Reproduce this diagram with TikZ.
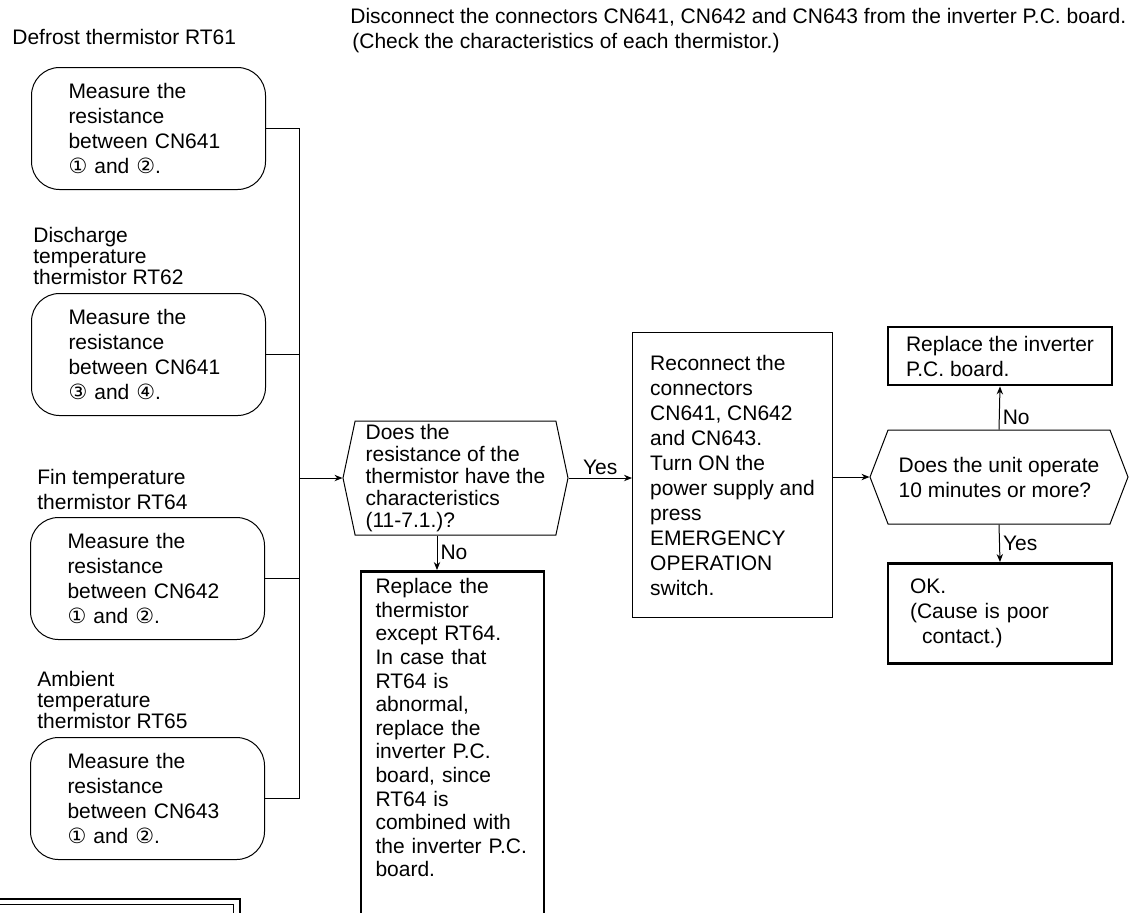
\documentclass[tikz,border=0pt]{standalone}
\usepackage{fontspec}
\setmainfont{Liberation Sans}
\newfontfamily\circfont{DejaVu Sans}
\usetikzlibrary{arrows.meta, positioning, shapes.symbols, calc}

\newcommand{\cn}[1]{{\circfont #1}}
\newcommand{\boxfont}{\fontsize{10.5}{12.5}\selectfont}
\newcommand{\tightfont}{\fontsize{10.5}{10.5}\selectfont}
\newcommand{\queryfont}{\fontsize{10.5}{11}\selectfont}
\newcommand{\longfont}{\fontsize{10.5}{11.8}\selectfont}

\tikzset{
  measure/.style={rectangle, draw, rounded corners=14pt, line width=0.5pt,
                  text width=80pt, inner xsep=18.5pt,
                  minimum width=117pt, minimum height=61pt, align=left,
                  anchor=north west, font=\boxfont},
  tlabel/.style={inner sep=0pt, anchor=west, align=left, font=\tightfont},
  query/.style={signal, signal to=west and east, draw, line width=0.5pt,
                align=left, inner sep=0pt},
  action/.style={rectangle, draw, line width=0.5pt, align=left,
                 font=\boxfont},
  result/.style={action, line width=1.4pt},
  wire/.style={line width=0.5pt},
  arr/.style={-{Stealth[length=4pt,width=3.2pt]}, line width=0.5pt},
  ans/.style={inner sep=1.5pt, font=\boxfont},
}

\begin{document}
\begin{tikzpicture}[x=0.5pt, y=-0.5pt]
  \useasboundingbox (0,0) rectangle (1145,912);
  \clip (0,0) rectangle (1145,912);

  \node[tlabel, font=\boxfont] (intro) at (350,30.5)
    {Disconnect the connectors CN641, CN642 and CN643 from the inverter P.C. board.\\
     \hspace*{1pt}(Check the characteristics of each thermistor.)};

  % the four thermistors
  \node[tlabel] (l1) at (12,37) {Defrost thermistor RT61};
  \node[measure] (m1) at (31,67)
    {Measure the\\resistance\\between CN641\\\cn{①} and \cn{②}.};

  \node[tlabel] (l2) at (33,256) {Discharge\\temperature\\thermistor RT62};
  \node[measure] (m2) at (31,293)
    {Measure the\\resistance\\between CN641\\\cn{③} and \cn{④}.};

  \node[tlabel, font=\boxfont] (l3) at (37,489.5) {Fin temperature\\thermistor RT64};
  \node[measure] (m3) at (30,517)
    {Measure the\\resistance\\between CN642\\\cn{①} and \cn{②}.};

  \node[tlabel] (l4) at (37,700) {Ambient\\temperature\\thermistor RT65};
  \node[measure] (m4) at (30,737)
    {Measure the\\resistance\\between CN643\\\cn{①} and \cn{②}.};

  % check and repair
  \node[query, minimum width=112.5pt, minimum height=57pt,
        signal pointer angle=156, font=\queryfont] (q1) at (455.5,478)
    {Does the\\resistance of the\\thermistor have the\\characteristics\\(11-7.1.)?};

  \node[result, anchor=north, text width=77pt, text depth=200pt,
        inner xsep=7.25pt, inner ysep=3.5pt, font=\longfont] (rt) at (452.5,570)
    {Replace the\\thermistor\\except RT64.\\In case that\\RT64 is\\abnormal,\\replace the\\inverter P.C.\\board, since\\RT64 is\\combined with\\the inverter P.C.\\board.};

  \node[action, anchor=north west, minimum width=100pt, minimum height=142.5pt]
    (rc) at (632,332)
    {Reconnect the\\connectors\\CN641, CN642\\and CN643.\\Turn ON the\\power supply and\\press\\EMERGENCY\\OPERATION\\switch.};

  \node[query, minimum width=129pt, minimum height=47pt,
        signal pointer angle=138, font=\boxfont] (q2) at (999,477)
    {Does the unit operate\\10 minutes or more?};

  \node[result, minimum width=112pt, minimum height=29pt] (rinv) at (1000,356)
    {Replace the inverter\\P.C. board.};
  \node[result, anchor=north, text width=90pt, inner xsep=11pt,
        minimum height=50pt] (ok) at (1000,562)
    {OK.\\(Cause is poor\\\hspace*{6pt}contact.)};

  % connectors
  \coordinate (bus) at (299,0);
  \draw[wire] (m1.east) -| (bus |- m4.east) -- (m4.east);
  \draw[wire] (m2.east) -- (m2.east -| bus);
  \draw[wire] (m3.east) -- (m3.east -| bus);
  \draw[arr] (bus |- q1.west) -- (q1.west);

  \draw[arr] (q1.east) -- (q1.east -| rc.west) node[ans, midway, above]{Yes};
  \coordinate (nofork) at ([xshift=-9.25pt]q1.south);
  \draw[arr] (nofork) -- (nofork |- rt.north) node[ans, midway, right]{No};

  \draw[arr] (rc.east |- q2.west) -- (q2.west);
  \draw[arr] (q2.north) -- (rinv.south) node[ans, pos=0.27, right]{No};
  \draw[arr] (q2.south) -- (ok.north) node[ans, midway, right]{Yes};

  % frame of the next panel
  \draw[line width=1.3pt] (-10,899) -- (240,899) -- (240,930);
  \draw[wire] (-10,904) -- (233,904) -- (233,930);
\end{tikzpicture}
\end{document}
